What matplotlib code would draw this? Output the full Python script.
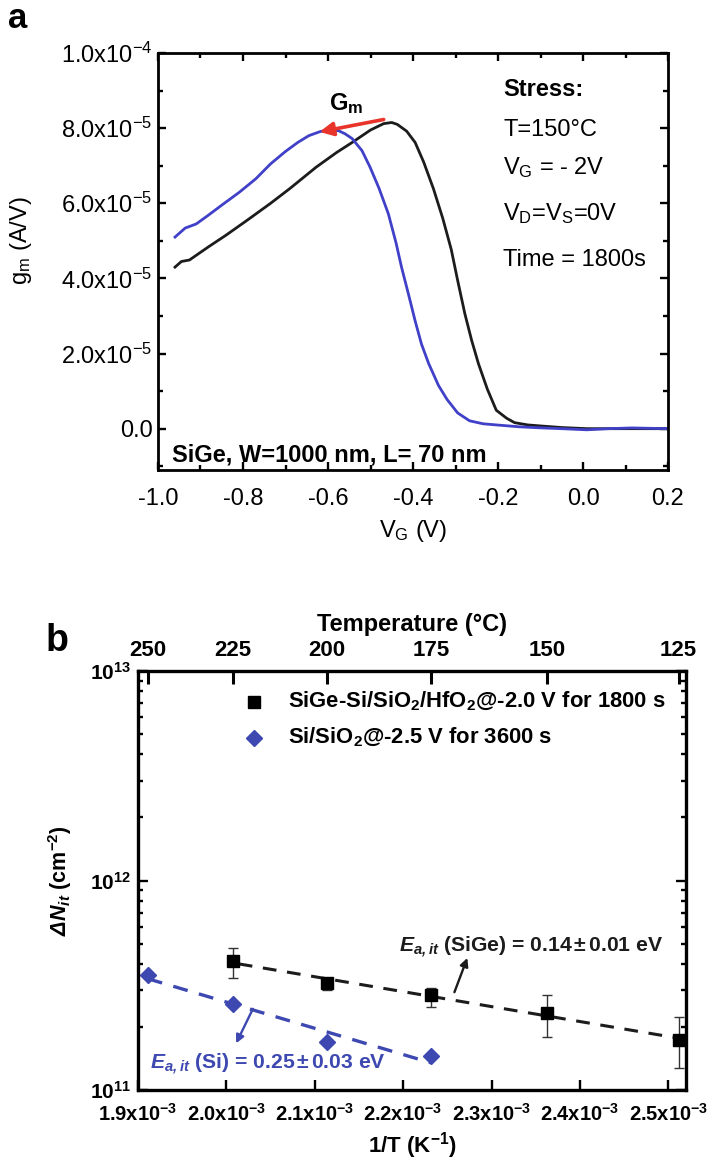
import numpy as np
import matplotlib
matplotlib.use('Agg')
import matplotlib.pyplot as plt
from matplotlib import font_manager as fm
from matplotlib.ticker import MultipleLocator, FixedLocator, LogLocator, NullFormatter

names = {f.name for f in fm.fontManager.ttflist}
FONT = 'Liberation Sans Narrow' if 'Liberation Sans Narrow' in names else 'Liberation Sans'
plt.rcParams['font.family'] = [FONT, 'DejaVu Sans']
plt.rcParams['mathtext.fontset'] = 'custom'
plt.rcParams['mathtext.rm'] = FONT
plt.rcParams['mathtext.it'] = FONT + ':italic'
plt.rcParams['mathtext.bf'] = FONT + ':bold'
plt.rcParams['mathtext.bfit'] = FONT + ':bold:italic'
plt.rcParams['mathtext.sf'] = FONT

# ---------------- Panel a data (gm in units of 1e-5 A/V) ----------------
vg_before = [-0.96, -0.945, -0.926, -0.88, -0.84, -0.79, -0.735, -0.69, -0.628, -0.58, -0.543,
             -0.50, -0.469, -0.45, -0.437, -0.415, -0.395, -0.375, -0.352, -0.33, -0.31,
             -0.295, -0.278, -0.262, -0.246, -0.225, -0.204, -0.18, -0.161, -0.13, -0.097,
             -0.05, 0.009, 0.1, 0.2]
gm_before = [4.30, 4.45, 4.49, 4.85, 5.15, 5.55, 6.00, 6.39, 6.96, 7.35, 7.62,
             7.95, 8.12, 8.15, 8.10, 7.92, 7.62, 7.10, 6.39, 5.60, 4.77,
             3.95, 3.06, 2.35, 1.73, 1.05, 0.49, 0.28, 0.16, 0.10, 0.07,
             0.03, 0.0, 0.0, 0.0]
vg_after = [-0.96, -0.936, -0.91, -0.883, -0.85, -0.809, -0.77, -0.735, -0.70, -0.671, -0.645,
            -0.618, -0.595, -0.575, -0.56, -0.543, -0.52, -0.501, -0.48, -0.458, -0.44,
            -0.427, -0.41, -0.395, -0.38, -0.363, -0.34, -0.32, -0.295, -0.267, -0.235,
            -0.204, -0.15, -0.097, -0.05, 0.009, 0.06, 0.115, 0.2]
gm_after = [5.10, 5.34, 5.45, 5.67, 5.95, 6.29, 6.65, 7.05, 7.38, 7.62, 7.80,
            7.91, 7.95, 7.93, 7.85, 7.72, 7.40, 6.96, 6.40, 5.72, 4.95,
            4.30, 3.55, 2.87, 2.25, 1.73, 1.15, 0.78, 0.42, 0.21, 0.13,
            0.10, 0.05, 0.02, 0.0, -0.03, 0.0, 0.02, 0.0]

# ---------------- Panel b data ----------------
invT_sige = [2.008e-3, 2.114e-3, 2.231e-3, 2.363e-3, 2.512e-3]
dNit_sige = [4.13e11, 3.24e11, 2.83e11, 2.32e11, 1.74e11]
err_lo_sige = [0.70e11, 0.24e11, 0.35e11, 0.52e11, 0.46e11]
err_hi_sige = [0.63e11, 0.12e11, 0.23e11, 0.52e11, 0.48e11]
invT_si = [1.911e-3, 2.008e-3, 2.114e-3, 2.231e-3]
dNit_si = [3.54e11, 2.57e11, 1.69e11, 1.45e11]
temp_ticks = [250, 225, 200, 175, 150, 125]
x_ticks_b = [1.9e-3, 2.0e-3, 2.1e-3, 2.2e-3, 2.3e-3, 2.4e-3, 2.5e-3]
legend_labels = [r'SiGe-Si/SiO$_\mathbf{2}$/HfO$_\mathbf{2}$@-2.0 V for 1800 s',
                 r'Si/SiO$_\mathbf{2}$@-2.5 V for 3600 s']

W, H = 707, 1163
fig = plt.figure(figsize=(W / 100, H / 100), dpi=100)

def rect(l, r, t, b):
    return [l / W, 1 - b / H, (r - l) / W, (b - t) / H]

BLUE_A = '#4040c8'
BLUE_B = '#3d48b0'
BLACK = '#1c1c1c'

# ================= Panel a =================
ax = fig.add_axes(rect(158, 668, 53, 470))
ax.plot(vg_before, np.array(gm_before) * 1e-5, color=BLACK, lw=2.0)
ax.plot(vg_after, np.array(gm_after) * 1e-5, color=BLUE_A, lw=2.0)
ax.set_xlim(-1.0, 0.2)
ax.set_ylim(-1.1e-5, 1.0e-4)
ax.xaxis.set_minor_locator(MultipleLocator(0.1))
ax.yaxis.set_major_locator(FixedLocator([0, 2e-5, 4e-5, 6e-5, 8e-5, 1e-4]))
ax.yaxis.set_minor_locator(MultipleLocator(1e-5))
ax.set_xticks([-1.0, -0.8, -0.6, -0.4, -0.2, 0.0, 0.2])
ax.set_xticklabels(['-1.0', '-0.8', '-0.6', '-0.4', '-0.2', '0.0', '0.2'])
ax.set_yticklabels(['0.0', r'2.0x10$^{-5}$', r'4.0x10$^{-5}$', r'6.0x10$^{-5}$',
                    r'8.0x10$^{-5}$', r'1.0x10$^{-4}$'])
ax.tick_params(which='both', direction='in', top=True, right=True, labelsize=17, width=1.7)
ax.tick_params(which='major', length=6)
ax.tick_params(which='minor', length=3.5)
ax.tick_params(axis='x', which='major', pad=13)
ax.tick_params(axis='y', which='major', pad=4)
for s in ax.spines.values():
    s.set_linewidth(2.0)
ax.set_xlabel(r'V$_\mathrm{G}$ (V)', fontsize=17)
ax.xaxis.set_label_coords(0.5, -0.115)
ax.set_ylabel(r'g$_\mathrm{m}$ (A/V)', fontsize=17)
ax.yaxis.set_label_coords(-0.243, 0.55)

ax.annotate('', xy=(-0.62, 7.9e-5), xytext=(-0.469, 8.23e-5),
            arrowprops=dict(arrowstyle='-|>', color='#e8342a', lw=2.6, mutation_scale=20,
                            shrinkA=0, shrinkB=0))
ax.text(-0.597, 8.66e-5, r'G$_\mathbf{m}$', fontsize=17, fontweight='bold', va='center')
ax.text(-0.188, 9.04e-5, 'Stress:', fontsize=17, fontweight='bold', va='center')
ax.text(-0.188, 7.96e-5, 'T=150°C', fontsize=17, va='center')
ax.text(-0.188, 6.96e-5, r'V$_\mathrm{G}$ = - 2V', fontsize=17, va='center')
ax.text(-0.188, 5.72e-5, r'V$_\mathrm{D}$=V$_\mathrm{S}$=0V', fontsize=17, va='center')
ax.text(-0.188, 4.49e-5, 'Time = 1800s', fontsize=17, va='center')
ax.text(-0.968, -0.69e-5, 'SiGe, W=1000 nm, L= 70 nm', fontsize=17, fontweight='bold',
        va='center')

fig.text(18 / W, 1 - 18 / H, 'a', fontsize=25, fontweight='bold', va='center', ha='center')

# ================= Panel b =================
bx = fig.add_axes(rect(138, 686, 671, 1090))
bx.set_yscale('log')
bx.set_xlim(1.9e-3, 2.52e-3)
bx.set_ylim(1e11, 1e13)

# Arrhenius fits (straight lines in log space)
p1 = np.polyfit(invT_sige, np.log10(dNit_sige), 1)
xf1 = np.linspace(2.014e-3, 2.52e-3, 50)
bx.plot(xf1, 10 ** np.polyval(p1, xf1), color=BLACK, lw=2.2, dashes=(4.5, 3.5))
p2 = np.polyfit(invT_si, np.log10(dNit_si), 1)
xf2 = np.linspace(1.911e-3, 2.231e-3, 50)
bx.plot(xf2, 10 ** np.polyval(p2, xf2), color=BLUE_B, lw=2.4, dashes=(4.5, 3.5))

bx.errorbar(invT_sige, dNit_sige, yerr=[err_lo_sige, err_hi_sige], fmt='s', color='black',
            ms=8, ecolor='#333333', elinewidth=1.0, capsize=3.5, capthick=1.0)
bx.plot(invT_si, dNit_si, 'D', color=BLUE_B, ms=8, ls='none')

# legend (markers + labels)
bx.plot([0.2117], [0.927], 's', color='black', ms=8, transform=bx.transAxes, clip_on=False)
bx.plot([0.2117], [0.8406], 'D', color=BLUE_B, ms=8, transform=bx.transAxes, clip_on=False)
bx.text(0.2737, 0.927, legend_labels[0], transform=bx.transAxes, fontsize=15.8,
        fontweight='bold', va='center', ha='left')
bx.text(0.2737, 0.8406, legend_labels[1], transform=bx.transAxes, fontsize=15.8,
        fontweight='bold', va='center', ha='left')

bx.set_xticks(x_ticks_b)
bx.set_xticklabels([r'%.1fx10$^{\mathbf{-3}}$' % (v * 1e3) for v in x_ticks_b])
bx.yaxis.set_minor_locator(LogLocator(base=10, subs=np.arange(2, 10), numticks=20))
bx.yaxis.set_minor_formatter(NullFormatter())
bx.set_yticks([1e11, 1e12, 1e13])
bx.set_yticklabels([r'10$^{\mathbf{11}}$', r'10$^{\mathbf{12}}$', r'10$^{\mathbf{13}}$'])
bx.tick_params(which='both', direction='in', right=True, width=1.7)
bx.tick_params(which='major', length=7)
bx.tick_params(axis='x', which='major', labelsize=14.5, pad=9)
bx.tick_params(axis='y', which='major', labelsize=15, pad=5)
bx.tick_params(which='minor', length=3.5)
for lab in bx.get_xticklabels() + bx.get_yticklabels():
    lab.set_fontweight('bold')
for s in bx.spines.values():
    s.set_linewidth(2.4)

bx.set_xlabel(r'1/T (K$^{\mathbf{-1}}$)', fontsize=16, fontweight='bold')
bx.xaxis.set_label_coords(0.5, -0.096)
bx.set_ylabel(r'$\mathbfit{\Delta N_{it}}$ (cm$^{\mathbf{-2}}$)', fontsize=15.5,
              fontweight='bold')
bx.yaxis.set_label_coords(-0.117, 0.5)

tx = bx.twiny()
tx.set_xlim(bx.get_xlim())
tx.set_xticks([1.0 / (t + 273.15) for t in temp_ticks])
tx.set_xticklabels([str(t) for t in temp_ticks])
tx.tick_params(direction='in', length=9, width=2.2, labelsize=16, pad=7)
for lab in tx.get_xticklabels():
    lab.set_fontweight('bold')
tx.set_xlabel('Temperature (°C)', fontsize=17, fontweight='bold', labelpad=7)
for s in tx.spines.values():
    s.set_visible(False)

# annotations
bx.annotate('', xy=(2.2726e-3, 4.27e11), xytext=(2.258e-3, 2.93e11),
            arrowprops=dict(arrowstyle='-|>', color=BLACK, lw=1.7, mutation_scale=12,
                            shrinkA=0, shrinkB=0))
bx.text(2.195e-3, 4.78e11,
        r'$\mathbfit{E_{a,it}}$ (SiGe) = 0.14$\,\mathbf{\pm}\,$0.01 eV',
        fontsize=15.2, fontweight='bold', va='center', color=BLACK)
bx.annotate('', xy=(2.011e-3, 1.67e11), xytext=(2.030e-3, 2.44e11),
            arrowprops=dict(arrowstyle='-|>', color=BLUE_B, lw=1.7, mutation_scale=12,
                            shrinkA=0, shrinkB=0))
bx.text(1.9136e-3, 1.32e11,
        r'$\mathbfit{E_{a,it}}$ (Si) = 0.25$\,\mathbf{\pm}\,$0.03 eV',
        fontsize=15.2, fontweight='bold', va='center', color=BLUE_B)

fig.text(57 / W, 1 - 641 / H, 'b', fontsize=27, fontweight='bold', va='center', ha='center')

fig.savefig('out.png', dpi=100)
